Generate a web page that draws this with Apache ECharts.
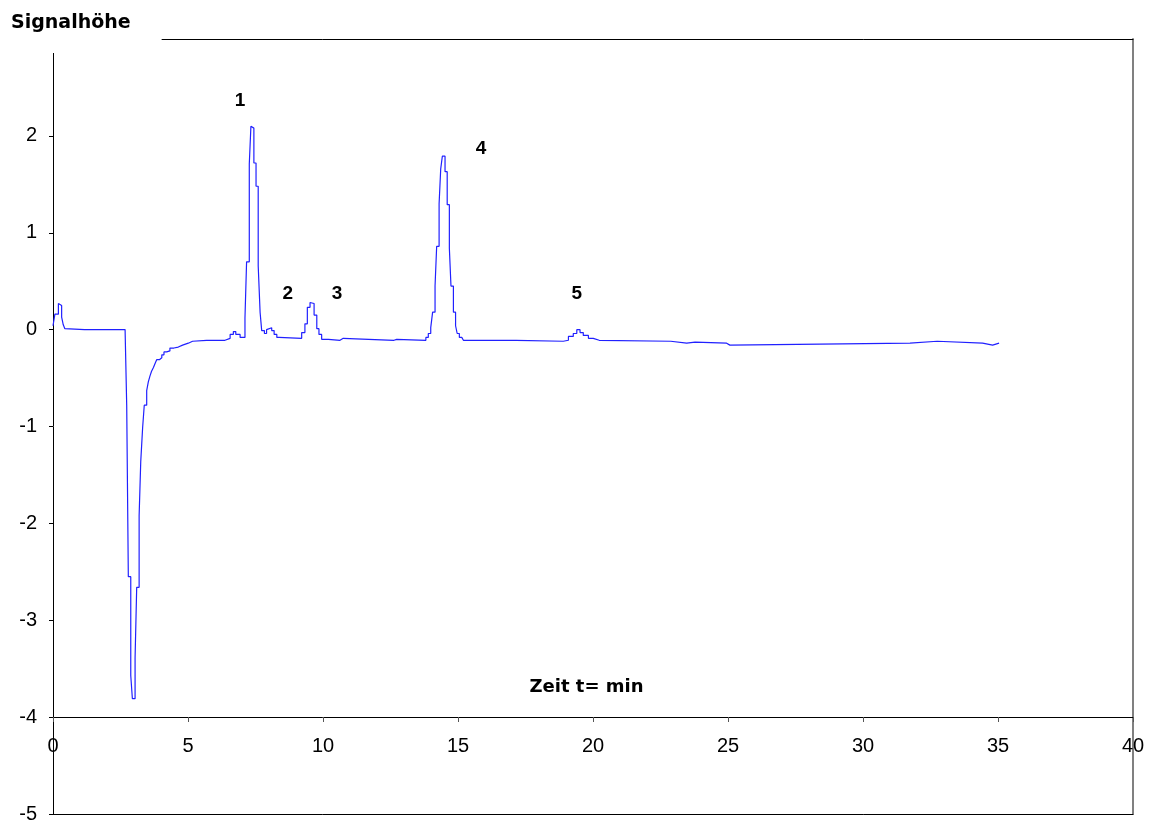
<!DOCTYPE html>
<html>
<head>
<meta charset="utf-8">
<script src="https://cdn.jsdelivr.net/npm/echarts@6/dist/echarts.min.js"></script>
<style>
html,body{margin:0;padding:0;background:#fff;}
#chart{width:1150px;height:820px;}
</style>
</head>
<body>
<div id="chart"></div>
<script>
// Change points of the stepped detector trace (time in min, signal height)
const times = [
  0.00, 0.07, 0.20, 0.26, 0.32, 0.38, 0.44, 0.50, 1.17, 1.23,
  2.67, 2.73, 2.79, 2.88, 2.94, 3.04, 3.10, 3.19, 3.25, 3.32,
  3.38, 3.47, 3.53, 3.59, 3.65, 3.72, 3.78, 3.84, 3.94, 4.03,
  4.11, 4.21, 4.33, 4.48, 4.64, 4.80, 5.01, 5.17, 5.69, 5.75,
  6.37, 6.56, 6.68, 6.77, 6.93, 7.11, 7.17, 7.27, 7.33, 7.38,
  7.44, 7.52, 7.60, 7.67, 7.73, 7.83, 7.91, 7.98, 8.10, 8.19,
  8.29, 8.37, 9.21, 9.33, 9.42, 9.52, 9.58, 9.67, 9.77, 9.85,
  9.95, 10.20, 10.63, 10.75, 12.63, 12.73, 13.81, 13.90, 13.99, 14.06,
  14.15, 14.21, 14.30, 14.36, 14.42, 14.52, 14.60, 14.68, 14.74, 14.83,
  14.91, 14.97, 15.05, 15.14, 15.20, 17.15, 18.90, 19.09, 19.27, 19.40,
  19.52, 19.64, 19.83, 20.01, 20.23, 22.88, 23.47, 23.78, 24.95, 25.07,
  31.74, 32.75, 34.43, 34.80, 35.04
];
const signal = [
  0.04, 0.16, 0.27, 0.25, 0.13, 0.05, 0.01, 0.00, 0.02, 0.00,
  -0.02, -0.78, -2.55, -3.57, -3.81, -3.39, -2.66, -1.92, -1.36, -1.01,
  -0.78, -0.63, -0.54, -0.48, -0.43, -0.39, -0.35, -0.31, -0.29, -0.26,
  -0.23, -0.22, -0.19, -0.18, -0.16, -0.14, -0.12, -0.11, -0.09, -0.11,
  -0.09, -0.05, -0.02, -0.05, -0.08, 0.12, 0.70, 1.71, 2.10, 2.08,
  1.72, 1.48, 0.66, 0.18, -0.01, -0.04, 0.00, 0.02, -0.01, -0.05,
  -0.08, -0.09, -0.03, 0.06, 0.23, 0.28, 0.27, 0.15, 0.01, -0.05,
  -0.10, -0.11, -0.09, -0.11, -0.10, -0.11, -0.08, -0.04, 0.02, 0.18,
  0.45, 0.86, 1.30, 1.66, 1.79, 1.63, 1.29, 0.84, 0.45, 0.18,
  0.04, -0.04, -0.08, -0.10, -0.11, -0.12, -0.11, -0.07, -0.04, 0.00,
  -0.03, -0.06, -0.09, -0.11, -0.12, -0.14, -0.13, -0.14, -0.16, -0.14,
  -0.12, -0.14, -0.16, -0.14, -0.14
];
// Peak labels
const peakNames = ['1', '2', '3', '4', '5'];
const peakLabelTimes = [6.93, 8.70, 10.52, 15.85, 19.40];
const peakLabelHeights = [2.36, 0.37, 0.37, 1.87, 0.37];
// Axis ranges / ticks
const xMin = 0, xMax = 40, xStep = 5;
const yMin = -5, yMax = 3, yStep = 1;
const yTitle = 'Signalhöhe';
const xTitle = 'Zeit t= min';

const chart = echarts.init(document.getElementById('chart'), null, {renderer: 'canvas'});
const lineData = times.map((t, i) => [t, signal[i]]);
const labelData = peakNames.map((n, i) => [peakLabelTimes[i], peakLabelHeights[i], n]);
const font = 'Liberation Sans';

chart.setOption({
  animation: false,
  backgroundColor: '#fff',
  title: {
    text: yTitle,
    left: 0, top: 0,
    padding: [13, 31, 20, 11],
    backgroundColor: '#fff',
    textStyle: {fontFamily: 'DejaVu Sans', fontWeight: 'bold', fontSize: 19, color: '#000', lineHeight: 20}
  },
  grid: {left: 53, right: 17, top: 39, bottom: 6, containLabel: false, outerBoundsMode: 'none'},
  xAxis: [
    {
      type: 'value', position: 'bottom', offset: -97,
      min: xMin, max: xMax, interval: xStep,
      splitLine: {show: false},
      axisLine: {show: true, onZero: false, lineStyle: {color: '#000', width: 1}},
      axisTick: {show: true, length: 5, lineStyle: {color: '#555'}},
      axisLabel: {fontFamily: font, fontSize: 20, color: '#000', margin: 19, showMinLabel: true, showMaxLabel: true},
      name: xTitle, nameLocation: 'middle', nameGap: -30,
      nameTextStyle: {fontFamily: 'DejaVu Sans', fontWeight: 'bold', fontSize: 18, color: '#000', verticalAlign: 'middle', padding: [0, 13, 0, 0]}
    },
    {
      type: 'value', position: 'bottom', offset: 0,
      min: xMin, max: xMax, interval: xStep,
      splitLine: {show: false}, axisTick: {show: false}, axisLabel: {show: false},
      axisLine: {show: true, onZero: false, lineStyle: {color: '#000', width: 1}}
    },
    {
      type: 'value', position: 'top',
      min: xMin, max: xMax, interval: xStep,
      splitLine: {show: false}, axisTick: {show: false}, axisLabel: {show: false},
      axisLine: {show: true, onZero: false, lineStyle: {color: '#000', width: 1}}
    }
  ],
  yAxis: [
    {
      type: 'value', position: 'left',
      min: yMin, max: yMax, interval: yStep,
      splitLine: {show: false},
      axisLine: {show: true, onZero: false, lineStyle: {color: '#000', width: 1}},
      axisTick: {show: true, length: 4, lineStyle: {color: '#000'}},
      axisLabel: {fontFamily: font, fontSize: 20, color: '#000', margin: 16,
        formatter: v => (v === yMax ? '' : String(v))}
    },
    {
      type: 'value', position: 'right',
      min: yMin, max: yMax, interval: yStep,
      splitLine: {show: false}, axisTick: {show: false}, axisLabel: {show: false},
      axisLine: {show: true, onZero: false, lineStyle: {color: '#808080', width: 2}}
    }
  ],
  series: [
    {
      type: 'line', step: 'end', xAxisIndex: 0, yAxisIndex: 0,
      data: lineData, showSymbol: false, symbol: 'none', silent: true,
      lineStyle: {color: '#2020ff', width: 1.2}
    },
    {
      type: 'scatter', xAxisIndex: 0, yAxisIndex: 0,
      data: labelData, symbolSize: 1, silent: true,
      itemStyle: {color: 'rgba(0,0,0,0)'},
      label: {show: true, position: 'inside', formatter: p => p.value[2],
        fontFamily: font, fontWeight: 'bold', fontSize: 19, color: '#000',
        textBorderWidth: 0, opacity: 1}
    }
  ]
});
</script>
</body>
</html>
